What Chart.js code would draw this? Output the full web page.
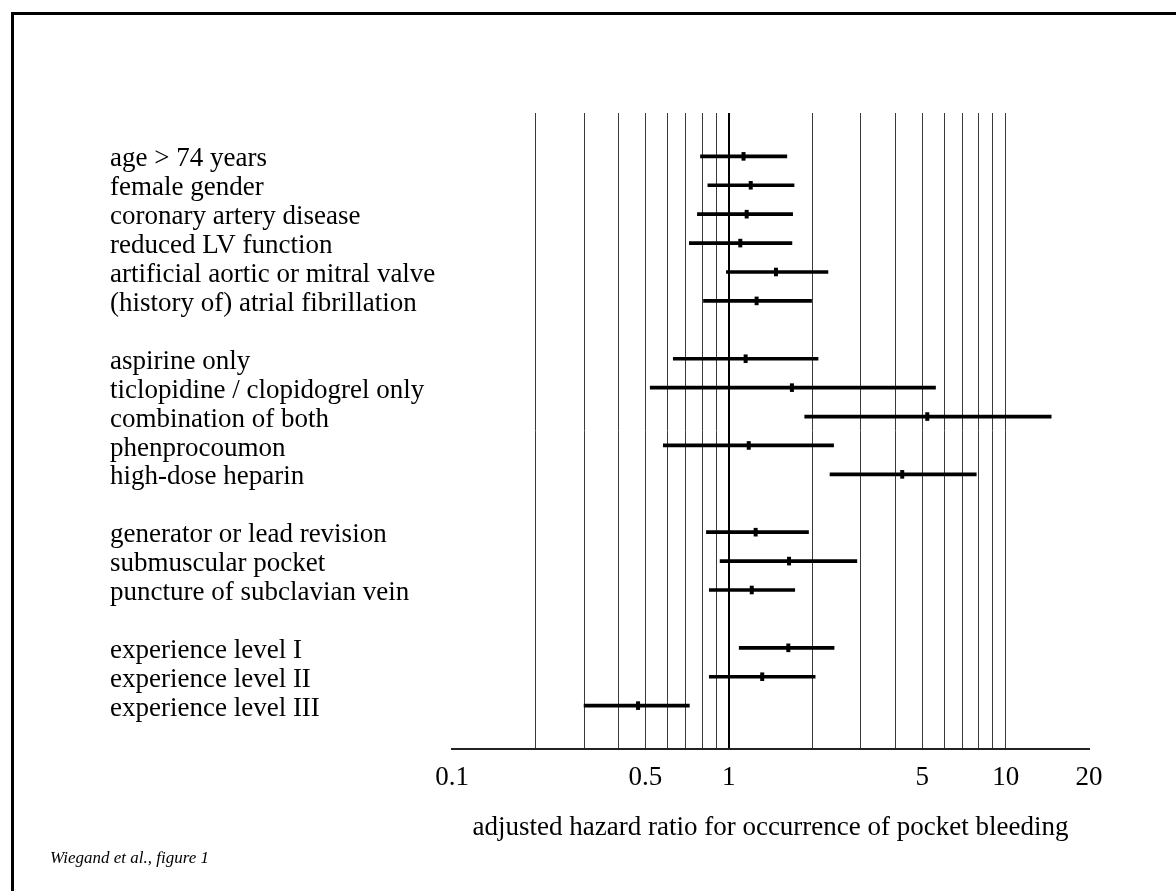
<!DOCTYPE html>
<html>
<head>
<meta charset="utf-8">
<script src="https://cdn.jsdelivr.net/npm/chart.js@4/dist/chart.umd.min.js"></script>
<style>
  html, body { margin: 0; padding: 0; background: #fff; }
  .frame {
    position: absolute; left: 11px; top: 12px; right: 0; bottom: 0;
    border-left: 3px solid #000; border-top: 3px solid #000;
  }
  #myChart { position: absolute; left: 0; top: 0; }
</style>
</head>
<body>
<div class="frame"></div>
<canvas id="myChart" width="1176" height="891"></canvas>
<script>
// ROWS OF THE FOREST PLOT (empty strings are the gaps between groups)
const rowLabels = [
  "age > 74 years",
  "female gender",
  "coronary artery disease",
  "reduced LV function",
  "artificial aortic or mitral valve",
  "(history of) atrial fibrillation",
  "",
  "aspirine only",
  "ticlopidine / clopidogrel only",
  "combination of both",
  "phenprocoumon",
  "high-dose heparin",
  "",
  "generator or lead revision",
  "submuscular pocket",
  "puncture of subclavian vein",
  "",
  "experience level I",
  "experience level II",
  "experience level III"
];

// adjusted hazard ratio and 95% CI
const hazardRatio = [1.13, 1.20, 1.16, 1.10, 1.48, 1.26, null, 1.15, 1.69, 5.21, 1.18, 4.23, null, 1.25, 1.65, 1.21, null, 1.64, 1.32, 0.47];
const lowerCI = [0.79, 0.84, 0.77, 0.72, 0.98, 0.81, null, 0.63, 0.52, 1.88, 0.58, 2.32, null, 0.83, 0.93, 0.85, null, 1.09, 0.85, 0.30];
const upperCI = [1.62, 1.72, 1.70, 1.69, 2.28, 1.99, null, 2.10, 5.58, 14.6, 2.39, 7.83, null, 1.94, 2.90, 1.73, null, 2.40, 2.05, 0.72];

// x axis: where the vertical lines go, and which of them get a number
const gridValues = [0.1, 0.2, 0.3, 0.4, 0.5, 0.6, 0.7, 0.8, 0.9, 1, 2, 3, 4, 5, 6, 7, 8, 9, 10, 20];
const tickLabels = ["0.1", "0.5", "1", "5", "10", "20"];

const serif = "'Liberation Serif', 'Times New Roman', serif";
const rows = rowLabels.map((l, i) => i).filter((i) => hazardRatio[i] !== null);

// caption in the lower left corner
const caption = {
  id: "caption",
  afterDraw(chart) {
    const c = chart.ctx;
    c.save();
    c.font = "italic 17px " + serif;
    c.fillStyle = "#000";
    c.textBaseline = "alphabetic";
    c.fillText("Wiegand et al., figure 1", 50, 863);
    c.restore();
  }
};

const myChart = document.getElementById("myChart").getContext("2d");

const forestChart = new Chart(myChart, {
  type: "bar",
  data: {
    datasets: [
      {
        label: "95% CI",
        data: rows.map((i) => ({ y: i, x: [lowerCI[i], upperCI[i]] })),
        backgroundColor: "#000",
        barThickness: 3,
        order: 2
      },
      {
        type: "scatter",
        label: "hazard ratio",
        data: rows.map((i) => ({ x: hazardRatio[i], y: i })),
        pointStyle: "line",
        rotation: 90,
        radius: 4.3,
        borderWidth: 4,
        borderColor: "#000",
        order: 1
      }
    ]
  },
  options: {
    indexAxis: "y",
    responsive: false,
    animation: false,
    events: [],
    layout: { padding: { left: 110, top: 113, right: 87, bottom: 0 } },
    plugins: {
      legend: { display: false },
      tooltip: { enabled: false }
    },
    scales: {
      x: {
        type: "logarithmic",
        position: "bottom",
        min: 0.1,
        max: 20,
        afterBuildTicks: (scale) => {
          scale.ticks = gridValues.map((v) => ({ value: v }));
        },
        afterFit: (scale) => {
          scale.height = 142;
        },
        grid: {
          drawTicks: false,
          color: (c) => {
            const v = c.tick ? c.tick.value : 0;
            if (v === 0.1 || v === 20) return "rgba(0,0,0,0)";
            return v === 1 ? "#000" : "#3a3a3a";
          },
          lineWidth: (c) => (c.tick && c.tick.value === 1 ? 2 : 1)
        },
        border: { display: true, color: "#222", width: 2 },
        ticks: {
          autoSkip: false,
          maxRotation: 0,
          padding: 13,
          color: "#000",
          font: { family: serif, size: 27 },
          callback: (value) => {
            const s = String(value);
            return tickLabels.includes(s) ? s : "";
          }
        },
        title: {
          display: true,
          text: "adjusted hazard ratio for occurrence of pocket bleeding",
          color: "#000",
          font: { family: serif, size: 27 },
          padding: { top: 0, bottom: 47 }
        }
      },
      y: {
        type: "linear",
        reverse: true,
        min: -1.5,
        max: 20.5,
        offset: false,
        afterBuildTicks: (scale) => {
          scale.ticks = rowLabels.map((l, i) => ({ value: i }));
        },
        afterFit: (scale) => {
          scale.width = 342;
        },
        grid: { display: false },
        border: { display: false },
        ticks: {
          autoSkip: false,
          crossAlign: "far",
          padding: 0,
          labelOffset: 3,
          color: "#000",
          font: { family: serif, size: 27 },
          callback: (value) => rowLabels[value]
        }
      }
    }
  },
  plugins: [caption]
});
</script>
</body>
</html>
